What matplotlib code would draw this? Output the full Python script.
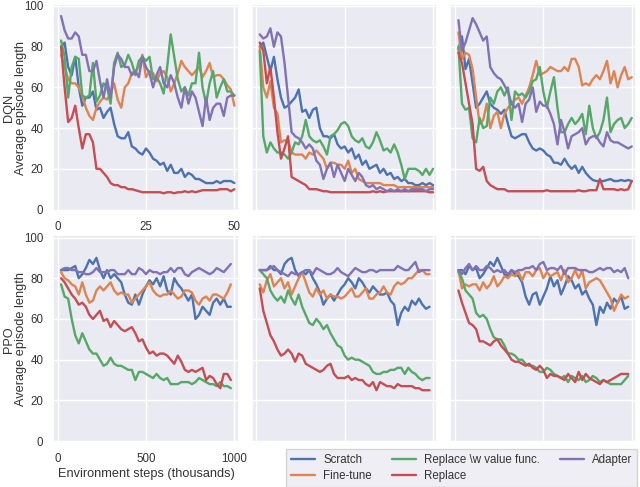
import matplotlib
matplotlib.use("Agg")
import matplotlib.pyplot as plt
import numpy as np
import seaborn as sns

# x axes: DQN runs in thousands of steps (1..50), PPO in thousands (20..980)
dqn_steps = np.arange(1, 51)
ppo_steps = np.arange(20, 1000, 20)

methods = ["Scratch", "Fine-tune", "Replace \\w value func.", "Replace", "Adapter"]

# ---- DQN, panel 1 ----
dqn1_scratch = [80, 82, 70, 66, 75, 60, 51, 55, 55, 58, 49, 50, 45, 48, 50, 42, 36, 35, 35, 38,
                31, 30, 28, 27, 30, 28, 25, 24, 22, 23, 19, 22, 18, 18, 20, 16, 18, 17, 15, 15,
                14, 13, 13, 13, 14, 13, 14, 14, 14, 13]
dqn1_finetune = [76, 70, 64, 62, 62, 60, 56, 50, 46, 44, 50, 53, 55, 54, 57, 62, 54, 50, 60, 62,
                 67, 68, 70, 76, 65, 68, 67, 63, 67, 68, 65, 58, 62, 67, 73, 70, 68, 66, 68, 70,
                 65, 68, 72, 65, 66, 66, 64, 61, 59, 51]
dqn1_replace_vf = [83, 75, 55, 70, 75, 74, 56, 55, 56, 72, 53, 56, 62, 60, 52, 72, 77, 70, 71, 76,
                   72, 66, 73, 75, 73, 75, 64, 65, 62, 57, 70, 86, 75, 64, 58, 60, 56, 62, 62, 77,
                   60, 52, 62, 68, 55, 60, 64, 58, 58, 56]
dqn1_replace = [80, 60, 43, 45, 51, 40, 30, 37, 37, 33, 20, 20, 18, 16, 13, 12, 12, 11, 11, 10,
                10, 9.5, 9, 8.5, 8.5, 8.5, 8.5, 8.5, 8.5, 8, 8.5, 8.5, 8, 8.5, 8.5, 9, 8.5, 9, 8.5, 9,
                9.5, 9.5, 9.5, 9.5, 9.5, 10, 10, 10, 9, 10]
dqn1_adapter = [95, 88, 84, 84, 87, 85, 76, 76, 68, 68, 73, 63, 55, 64, 55, 70, 76, 74, 70, 70,
                66, 68, 65, 75, 70, 67, 60, 66, 70, 62, 60, 66, 62, 55, 50, 60, 52, 58, 55, 48,
                41, 55, 44, 50, 52, 52, 46, 55, 56, 56]

# ---- DQN, panel 2 ----
dqn2_scratch = [80, 82, 75, 68, 75, 64, 55, 50, 51, 53, 55, 59, 48, 49, 45, 49, 50, 40, 36, 36,
                35, 37, 32, 30, 31, 28, 30, 25, 27, 22, 24, 20, 21, 22, 18, 20, 17, 18, 15, 16,
                14, 15, 13, 13, 12, 12, 13, 12, 13, 12]
dqn2_finetune = [80, 60, 55, 63, 50, 47, 33, 34, 34, 28, 27, 27, 27, 25, 28, 27, 29, 27, 25, 20,
                 23, 23, 22, 22, 20, 24, 18, 20, 15, 14, 13, 13, 13, 13, 13, 12, 12, 12, 12, 11,
                 11, 11, 11, 11, 11, 11, 11, 11, 11, 11]
dqn2_replace_vf = [78, 36, 28, 33, 30, 28, 28, 27, 25, 28, 33, 32, 36, 44, 36, 34, 33, 34, 31, 27,
                   36, 37, 39, 42, 43, 41, 36, 34, 33, 35, 31, 30, 33, 38, 34, 29, 30, 28, 32, 28,
                   22, 15, 20, 20, 20, 19, 17, 20, 17, 20]
dqn2_replace = [82, 78, 62, 70, 55, 38, 25, 30, 36, 16, 15, 14, 13, 12, 10, 10, 10, 9.5, 9, 9,
                8.5, 8.5, 8.5, 8.5, 8.5, 8.5, 8.5, 8.5, 8.5, 8.5, 8.5, 8.5, 9, 8.5, 9, 8.5, 9, 9, 9, 9,
                9, 9, 9, 9, 9, 9, 9, 9, 8.5, 8.5]
dqn2_adapter = [86, 84, 85, 89, 80, 87, 85, 72, 55, 38, 36, 35, 33, 30, 32, 30, 24, 22, 15, 20,
                23, 16, 22, 18, 14, 20, 17, 14, 18, 16, 12, 11, 12, 10, 11, 10, 9, 10, 9, 10,
                9, 10, 9, 10, 10, 10, 10, 9, 10, 10]

# ---- DQN, panel 3 ----
dqn3_scratch = [79, 85, 69, 74, 62, 50, 52, 55, 58, 52, 50, 49, 47, 49, 42, 36, 35, 36, 37, 37,
                33, 30, 29, 30, 29, 27, 26, 23, 23, 22, 25, 22, 20, 21.6, 18, 21, 18, 16, 14.5, 14,
                14, 14, 14.5, 15, 14, 14, 14.5, 14, 14.5, 14]
dqn3_finetune = [87, 74, 77, 76, 69, 55, 42, 44, 52, 40, 46, 48, 40, 47, 50, 52, 54, 55, 52, 56,
                 60, 66, 73, 66, 67, 68, 70, 69, 68, 68, 70, 68, 74, 74, 70, 61, 62, 61, 64, 66,
                 64, 68, 73, 62, 68, 60, 66, 70, 64, 65]
dqn3_replace_vf = [80, 52, 49, 50, 35, 33, 45, 40, 41, 55, 52, 58, 60, 56, 60, 44, 58, 56, 57, 55,
                   58, 63, 64, 70, 58, 50, 58, 65, 50, 38, 38, 42, 45, 42, 44, 47, 37, 51, 40, 35,
                   38, 44, 55, 38, 42, 44, 45, 40, 42, 45]
dqn3_replace = [77, 72, 62, 52, 42, 20, 19, 21, 14, 12, 11, 10, 10, 10, 9, 9, 9, 9, 9, 9,
                9, 9, 9, 9, 9, 9.5, 9, 9, 9, 9, 9, 9, 9, 9, 9.5, 9, 9, 9.5, 9.5, 9.5,
                15, 10, 10, 10, 10, 9.5, 10, 9.5, 10, 14]
dqn3_adapter = [93, 78, 82, 88, 94, 91, 87, 83, 85, 70, 67, 65, 64, 61, 58, 52, 50, 52, 43, 52,
                54, 60, 48, 53, 51, 51, 47, 42, 32, 44, 38, 30, 36, 37, 38, 40, 32, 35, 36, 36,
                33, 31, 38, 34, 33, 33, 32, 31, 30, 31]

# ---- PPO, panel 1 ----
ppo1_scratch = [84, 84, 84, 85, 86, 80, 82, 85, 89, 87, 90, 84, 80, 84, 80, 82, 80, 78, 72, 68,
                67, 72, 67, 72, 76, 79, 77, 80, 76, 81, 74, 72, 80, 77, 75, 72, 69, 72, 60, 62,
                66, 64, 62, 68, 70, 67, 70, 66, 66]
ppo1_finetune = [83, 80, 79, 77, 76, 72, 78, 72, 68, 69, 74, 76, 74, 76, 78, 74, 72, 73, 72, 72,
                 68, 70, 72, 74, 76, 78, 74, 72, 71, 72, 72, 74, 72, 70, 71, 74, 74, 73, 69, 67,
                 70, 71, 69, 72, 72, 71, 70, 73, 77]
ppo1_replace_vf = [77, 71, 70, 60, 52, 48, 53, 49, 45, 43, 43, 40, 37, 38, 41, 38, 37, 37, 36, 35,
                   35, 30, 34, 34, 33, 32, 31, 33, 31, 30, 31, 28, 28, 28, 29, 29, 29, 28, 29, 31,
                   30, 29, 28, 28, 27, 29, 27, 27, 26]
ppo1_replace = [80, 78, 75, 72, 70, 67, 68, 66, 62, 60, 62, 64, 59, 60, 56, 59, 57, 55, 54, 55,
                56, 53, 49, 50, 46, 43, 44, 42, 43, 43, 42, 40, 38, 42, 39, 35, 34, 35, 34, 35,
                36, 30, 32, 31, 28, 26, 33, 33, 30]
ppo1_adapter = [84, 85, 85, 84, 84, 83, 83, 82, 82, 83, 85, 83, 83, 83, 84, 84, 82, 82, 82, 84,
                82, 82, 85, 84, 82, 84, 83, 83, 82, 83, 83, 85, 83, 85, 85, 82, 81, 83, 84, 85,
                84, 83, 82, 83, 85, 84, 83, 85, 87]

# ---- PPO, panel 2 ----
ppo2_scratch = [84, 84, 84, 86, 84, 84, 82, 87, 89, 90, 84, 81, 83, 82, 84, 80, 77, 73, 67, 70,
                72, 69, 72, 75, 77, 80, 78, 75, 80, 78, 75, 73, 76, 74, 72, 72, 73, 69, 67, 57,
                63, 66, 64, 69, 67, 70, 67, 65, 66]
ppo2_finetune = [77, 73, 79, 82, 76, 78, 80, 75, 78, 72, 76, 80, 83, 78, 73, 71, 75, 72, 74, 70,
                 72, 71, 71, 70, 71, 73, 75, 71, 71, 73, 75, 70, 70, 72, 73, 76, 73, 72, 76, 78,
                 77, 78, 80, 80, 82, 84, 84, 82, 82]
ppo2_replace_vf = [84, 82, 80, 74, 71, 69, 71, 68, 74, 70, 67, 72, 66, 62, 58, 57, 60, 58, 55, 57,
                   53, 50, 47, 46, 42, 40, 41, 40, 40, 39, 38, 37, 34, 33, 33, 34, 34, 35, 35, 36,
                   36, 33, 36, 34, 33, 31, 30, 31, 31]
ppo2_replace = [75, 64, 58, 52, 49, 45, 42, 43, 45, 43, 39, 43, 42, 38, 37, 36, 35, 34, 35, 37,
                38, 33, 31, 31, 31, 32, 30, 31, 30, 30, 28, 27, 29, 25, 29, 28, 27, 27, 26, 28,
                27, 27, 27, 27, 26, 26, 25, 25, 25]
ppo2_adapter = [84, 84, 84, 85, 86, 84, 83, 82, 81, 83, 82, 82, 83, 84, 84, 82, 85, 84, 83, 82,
                82, 83, 85, 83, 82, 81, 83, 85, 84, 83, 83, 84, 84, 83, 84, 84, 84, 84, 84, 86,
                85, 84, 84, 86, 88, 83, 84, 84, 84]

# ---- PPO, panel 3 ----
ppo3_scratch = [84, 84, 82, 86, 84, 85, 80, 82, 85, 88, 86, 90, 86, 82, 81, 84, 82, 81, 78, 71,
                67, 72, 73, 67, 71, 75, 81, 76, 79, 72, 76, 81, 79, 75, 77, 72, 74, 70, 67, 57,
                66, 63, 68, 65, 70, 68, 71, 65, 66]
ppo3_finetune = [84, 75, 77, 76, 77, 77, 74, 78, 75, 77, 81, 76, 78, 81, 80, 82, 81, 83, 79, 83,
                 83, 81, 84, 85, 80, 83, 81, 82, 83, 79, 84, 78, 80, 84, 80, 84, 75, 78, 79, 80,
                 79, 76, 73, 70, 64, 68, 72, 70, 71]
ppo3_replace_vf = [83, 80, 74, 72, 70, 63, 61, 62, 60, 55, 51, 50, 50, 47, 43, 43, 42, 40, 40, 38,
                   37, 37, 36, 34, 34, 36, 35, 33, 32, 31, 32, 29, 32, 31, 30, 32, 29, 30, 32, 31,
                   29, 30, 29, 28, 28, 28, 28, 30, 32]
ppo3_replace = [74, 68, 63, 58, 57, 55, 49, 49, 48, 47, 49, 50, 47, 45, 43, 40, 39, 39, 38, 37,
                38, 36, 35, 37, 35, 31, 33, 32, 32, 31, 30, 33, 31, 29, 34, 30, 33, 31, 30, 29,
                28, 30, 29, 30, 31, 32, 33, 33, 33]
ppo3_adapter = [84, 82, 85, 87, 84, 86, 84, 84, 86, 85, 83, 84, 83, 84, 82, 84, 83, 84, 84, 85,
                85, 86, 84, 87, 88, 84, 85, 85, 84, 86, 82, 85, 85, 85, 84, 84, 84, 83, 83, 84,
                85, 84, 85, 85, 83, 84, 83, 85, 80]

dqn_panels = [
    [dqn1_scratch, dqn1_finetune, dqn1_replace_vf, dqn1_replace, dqn1_adapter],
    [dqn2_scratch, dqn2_finetune, dqn2_replace_vf, dqn2_replace, dqn2_adapter],
    [dqn3_scratch, dqn3_finetune, dqn3_replace_vf, dqn3_replace, dqn3_adapter],
]
ppo_panels = [
    [ppo1_scratch, ppo1_finetune, ppo1_replace_vf, ppo1_replace, ppo1_adapter],
    [ppo2_scratch, ppo2_finetune, ppo2_replace_vf, ppo2_replace, ppo2_adapter],
    [ppo3_scratch, ppo3_finetune, ppo3_replace_vf, ppo3_replace, ppo3_adapter],
]

sns.set_theme(style="darkgrid")
plt.rcParams["font.family"] = ["Liberation Sans", "DejaVu Sans"]
plt.rcParams["text.color"] = "#333333"
plt.rcParams["axes.labelcolor"] = "#333333"
plt.rcParams["xtick.color"] = "#333333"
plt.rcParams["ytick.color"] = "#333333"
colors = sns.color_palette("deep")
line_colors = [colors[0], colors[1], colors[2], colors[3], colors[4]]

fig, axes = plt.subplots(2, 3, figsize=(6.4, 4.87), dpi=100)
fig.subplots_adjust(left=0.083, right=0.994, top=0.992, bottom=0.090, wspace=0.07, hspace=0.115)

rows = [(dqn_steps, dqn_panels, (-1.25, 51.25), [0, 25, 50], "DQN"),
        (ppo_steps, ppo_panels, (-25, 1025), [0, 500, 1000], "PPO")]

handles = []
for r, (steps, panels, xlim, xticks, algo) in enumerate(rows):
    for c in range(3):
        ax = axes[r, c]
        for series, name, col in zip(panels[c], methods, line_colors):
            h, = ax.plot(steps, series, color=col, lw=1.7, label=name)
            if r == 0 and c == 0:
                handles.append(h)
        ax.set_xlim(*xlim)
        ax.set_ylim(-1, 101)
        ax.set_xticks(xticks)
        ax.set_yticks([0, 20, 40, 60, 80, 100])
        ax.tick_params(labelsize=8.3, pad=1.0)
        if c == 0:
            ax.set_ylabel(algo + "\nAverage episode length", fontsize=9.2, linespacing=1.0)
            ax.yaxis.set_label_coords(-0.142, 0.5)
        else:
            ax.tick_params(labelleft=False, labelbottom=False)
        if r == 1 and c == 0:
            ax.set_xlabel("Environment steps (thousands)", fontsize=9.2, labelpad=2)

leg = fig.legend(handles, methods, ncol=3, loc="lower right",
                 bbox_to_anchor=(0.996, 0.0), fontsize=8.3, frameon=True,
                 handlelength=2.1, handletextpad=0.7, columnspacing=1.75,
                 labelspacing=0.4, borderpad=0.4, borderaxespad=0, fancybox=False)
leg.get_frame().set_facecolor("#EAEAF2")
leg.get_frame().set_edgecolor("#CCCCCC")

fig.savefig("out.png", dpi=100)
